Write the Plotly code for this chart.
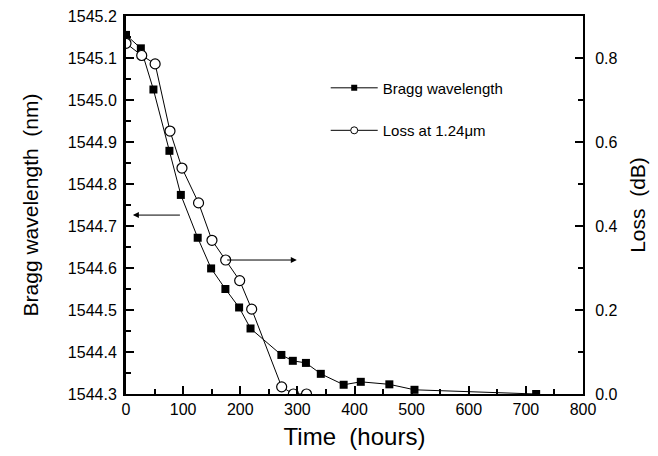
import plotly.graph_objects as go

# Bragg grating annealing: peak wavelength and loss versus time
bragg_time = [0, 26, 48, 76, 96, 125.5, 149, 174, 198, 218, 272, 292, 315, 341, 381, 411, 461, 505, 718]
bragg_nm = [1545.155, 1545.123, 1545.025, 1544.879, 1544.774, 1544.672, 1544.599, 1544.550,
            1544.506, 1544.456, 1544.393, 1544.379, 1544.374, 1544.348, 1544.322, 1544.329,
            1544.323, 1544.310, 1544.300]

loss_time = [0, 27.5, 51, 77, 98, 127, 150.5, 174.5, 199, 220, 272.5, 293, 316]
loss_db = [0.835, 0.806, 0.786, 0.626, 0.538, 0.455, 0.366, 0.319, 0.270, 0.202, 0.017, 0.0, 0.0]

# arrows pointing each curve to its axis
left_arrow = dict(tail_x=97, head_x=12, y=1544.726)
right_arrow = dict(tail_x=174.5, head_x=299, y=0.319)

FONT = "Arial, Liberation Sans, sans-serif"

fig = go.Figure()

fig.add_trace(go.Scatter(
    x=bragg_time, y=bragg_nm, mode="lines+markers", yaxis="y",
    line=dict(color="black", width=1),
    marker=dict(symbol="square", size=8, color="black"),
    showlegend=False,
))
fig.add_trace(go.Scatter(
    x=loss_time, y=loss_db, mode="lines+markers", yaxis="y2",
    line=dict(color="black", width=1),
    marker=dict(symbol="circle", size=10, color="white", line=dict(color="black", width=1.2)),
    showlegend=False,
))

# legend entries with smaller symbols
fig.add_trace(go.Scatter(
    x=[None], y=[None], mode="lines+markers", name="Bragg wavelength", legendgroup="a",
    line=dict(color="black", width=1),
    marker=dict(symbol="square", size=6, color="black"),
))
fig.add_trace(go.Scatter(
    x=[None], y=[None], mode="lines+markers", name="Loss at 1.24\u03bcm", legendgroup="b",
    line=dict(color="black", width=1),
    marker=dict(symbol="circle", size=7, color="white", line=dict(color="black", width=1)),
))

axis_common = dict(
    showline=True, linecolor="black", showgrid=False, zeroline=False, automargin=False,
    ticks="inside", tickcolor="black", tickwidth=1.5, ticklen=8,
    tickfont=dict(family=FONT, size=16, color="black"),
)

fig.update_layout(
    width=658, height=456,
    margin=dict(l=126, r=75, t=16, b=62),
    paper_bgcolor="white", plot_bgcolor="white",
    font=dict(family=FONT, color="black"),
    xaxis=dict(
        **axis_common, range=[0, 800], dtick=100, linewidth=2, mirror=True,
        ticklabelstandoff=0,
        minor=dict(ticks="inside", dtick=50, ticklen=5, tickcolor="black", tickwidth=1.5),
        title=dict(text="Time  (hours)", font=dict(family=FONT, size=24), standoff=11),
    ),
    yaxis=dict(
        **axis_common, range=[1544.3, 1545.2], dtick=0.1, tickformat=".1f", linewidth=3,
        ticklabelstandoff=3,
        minor=dict(ticks="inside", dtick=0.05, ticklen=5, tickcolor="black", tickwidth=1.5),
        title=dict(text="Bragg wavelength  (nm)", font=dict(family=FONT, size=21), standoff=24),
    ),
    yaxis2=dict(
        **axis_common, overlaying="y", side="right", range=[0, 0.9], dtick=0.2,
        tickformat=".1f", linewidth=2, ticklabelstandoff=7,
        minor=dict(ticks="inside", dtick=0.1, ticklen=5, tickcolor="black", tickwidth=1.5),
        title=dict(text="Loss  (dB)", font=dict(family=FONT, size=21), standoff=14),
    ),
    legend=dict(
        x=0.437, y=0.853, xanchor="left", yanchor="top",
        bgcolor="rgba(0,0,0,0)", borderwidth=0, itemwidth=47,
        font=dict(family=FONT, size=15, color="black"),
        traceorder="grouped", tracegroupgap=20,
    ),
    annotations=[
        dict(x=left_arrow["head_x"], y=left_arrow["y"], ax=left_arrow["tail_x"], ay=left_arrow["y"],
             xref="x", yref="y", axref="x", ayref="y", showarrow=True, text="",
             arrowhead=2, arrowsize=1.2, arrowwidth=1, arrowcolor="black"),
        dict(x=right_arrow["head_x"], y=right_arrow["y"], ax=right_arrow["tail_x"], ay=right_arrow["y"],
             xref="x", yref="y2", axref="x", ayref="y2", showarrow=True, text="",
             arrowhead=2, arrowsize=1.2, arrowwidth=1, arrowcolor="black"),
    ],
)

fig.write_html("out.html")
